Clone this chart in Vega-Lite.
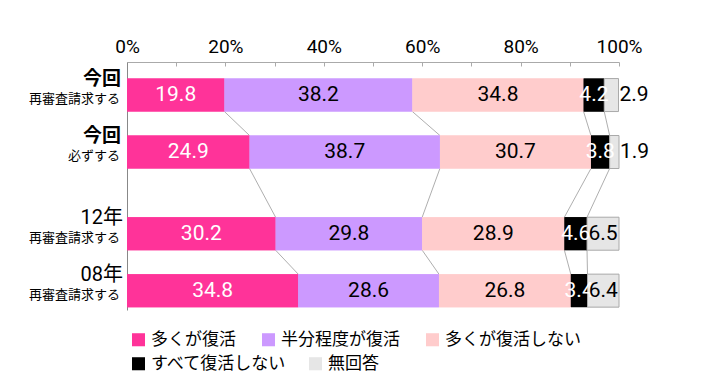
{
  "$schema": "https://vega.github.io/schema/vega-lite/v6.json",
  "width": 492,
  "height": 248,
  "autosize": {"type": "none"},
  "padding": {"left": 127, "top": 62, "right": 87, "bottom": 80},
  "background": "white",
  "config": {"view": {"stroke": null}, "font": "Noto Sans CJK JP"},
  "resolve": {"scale": {"color": "independent"}, "legend": {"color": "independent"}},
  "datasets": {
    "bars": [
      {"row": 1, "cat": "多くが復活", "k": 1, "value": 19.8},
      {"row": 1, "cat": "半分程度が復活", "k": 2, "value": 38.2},
      {"row": 1, "cat": "多くが復活しない", "k": 3, "value": 34.8},
      {"row": 1, "cat": "すべて復活しない", "k": 4, "value": 4.2},
      {"row": 1, "cat": "無回答", "k": 5, "value": 2.9},
      {"row": 2, "cat": "多くが復活", "k": 1, "value": 24.9},
      {"row": 2, "cat": "半分程度が復活", "k": 2, "value": 38.7},
      {"row": 2, "cat": "多くが復活しない", "k": 3, "value": 30.7},
      {"row": 2, "cat": "すべて復活しない", "k": 4, "value": 3.8},
      {"row": 2, "cat": "無回答", "k": 5, "value": 1.9},
      {"row": 3, "cat": "多くが復活", "k": 1, "value": 30.2},
      {"row": 3, "cat": "半分程度が復活", "k": 2, "value": 29.8},
      {"row": 3, "cat": "多くが復活しない", "k": 3, "value": 28.9},
      {"row": 3, "cat": "すべて復活しない", "k": 4, "value": 4.6},
      {"row": 3, "cat": "無回答", "k": 5, "value": 6.5},
      {"row": 4, "cat": "多くが復活", "k": 1, "value": 34.8},
      {"row": 4, "cat": "半分程度が復活", "k": 2, "value": 28.6},
      {"row": 4, "cat": "多くが復活しない", "k": 3, "value": 26.8},
      {"row": 4, "cat": "すべて復活しない", "k": 4, "value": 3.4},
      {"row": 4, "cat": "無回答", "k": 5, "value": 6.4}
    ],
    "rows": [
      {"row": 1, "head": "今回", "sub": "再審査請求する", "bold": true},
      {"row": 2, "head": "今回", "sub": "必ずする", "bold": true},
      {"row": 3, "head": "12年", "sub": "再審査請求する", "bold": false},
      {"row": 4, "head": "08年", "sub": "再審査請求する", "bold": false}
    ]
  },
  "layer": [
    {
      "data": {"name": "bars"},
      "transform": [
        {"stack": "value", "groupby": ["row"], "sort": [{"field": "k", "order": "ascending"}], "as": ["x0", "x1"]},
        {"window": [{"op": "lead", "field": "x1", "as": "nx1"}, {"op": "lead", "field": "row", "as": "nrow"}], "groupby": ["cat"], "sort": [{"field": "row", "order": "ascending"}]},
        {"filter": "datum.nrow != null && datum.k < 5"}
      ],
      "mark": {"type": "rule", "color": "#999999", "strokeWidth": 0.8, "yOffset": 16.5, "y2Offset": -16.5},
      "encoding": {
        "x": {"field": "x1", "type": "quantitative"},
        "x2": {"field": "nx1"},
        "y": {"field": "row", "type": "quantitative"},
        "y2": {"field": "nrow"}
      }
    },
    {
      "data": {"name": "bars"},
      "transform": [
        {"stack": "value", "groupby": ["row"], "sort": [{"field": "k", "order": "ascending"}], "as": ["x0", "x1"]}
      ],
      "mark": {"type": "rect", "yOffset": -16.5, "y2Offset": 16.5},
      "encoding": {
        "x": {"field": "x0", "type": "quantitative"},
        "x2": {"field": "x1"},
        "y": {"field": "row", "type": "quantitative"},
        "y2": {"field": "row"},
        "color": {
          "field": "cat", "type": "nominal",
          "scale": {
            "domain": ["多くが復活", "半分程度が復活", "多くが復活しない", "すべて復活しない", "無回答"],
            "range": ["#FF3399", "#CC99FF", "#FFCCCC", "#000000", "#E6E6E6"]
          },
          "legend": {
            "orient": "none", "legendX": 3, "legendY": 293,
            "direction": "horizontal",
            "values": ["すべて復活しない", "無回答"],
            "title": null, "symbolType": "square", "symbolSize": 170, "symbolStrokeWidth": 0,
            "labelFont": "Noto Sans CJK JP", "labelFontSize": 17, "labelColor": "black",
            "columnPadding": 20, "labelOffset": 4, "labelLimit": 300
          }
        }
      }
    },
    {
      "data": {"name": "bars"},
      "transform": [
        {"stack": "value", "groupby": ["row"], "sort": [{"field": "k", "order": "ascending"}], "as": ["x0", "x1"]}
      ],
      "mark": {"type": "rect", "yOffset": -16.5, "y2Offset": 16.5},
      "encoding": {
        "x": {
          "field": "x0", "type": "quantitative",
          "scale": {"domain": [0, 100], "nice": false},
          "axis": {
            "orient": "top", "title": null, "grid": false,
            "values": [0, 10, 20, 30, 40, 50, 60, 70, 80, 90, 100],
            "labelExpr": "datum.value % 20 === 0 ? datum.value + '%' : ''",
            "labelOverlap": false, "labelFlush": false,
            "labelFont": "Roboto", "labelFontSize": 19, "labelColor": "black",
            "tickSize": -4, "tickColor": "#aaaaaa", "domainColor": "#aaaaaa",
            "labelPadding": 10
          }
        },
        "x2": {"field": "x1"},
        "y": {
          "field": "row", "type": "quantitative",
          "scale": {"domain": [0.42, 2, 3, 4.34], "range": [0, 90, 171.7, 248], "nice": false, "zero": false},
          "axis": {"labels": false, "ticks": false, "grid": false, "domain": true, "domainColor": "#888888", "title": null}
        },
        "y2": {"field": "row"},
        "color": {
          "field": "cat", "type": "nominal",
          "scale": {
            "domain": ["多くが復活", "半分程度が復活", "多くが復活しない", "すべて復活しない", "無回答"],
            "range": ["#FF3399", "#CC99FF", "#FFCCCC", "#000000", "#E6E6E6"]
          },
          "legend": {
            "orient": "none", "legendX": 3, "legendY": 269,
            "direction": "horizontal",
            "values": ["多くが復活", "半分程度が復活", "多くが復活しない"],
            "title": null, "symbolType": "square", "symbolSize": 170, "symbolStrokeWidth": 0,
            "labelFont": "Noto Sans CJK JP", "labelFontSize": 17, "labelColor": "black",
            "columnPadding": 24, "labelOffset": 4, "labelLimit": 300
          }
        },
        "stroke": {"condition": {"test": "datum.cat === '無回答'", "value": "#aaaaaa"}, "value": "transparent"}
      }
    },
    {
      "data": {"name": "bars"},
      "transform": [
        {"stack": "value", "groupby": ["row"], "sort": [{"field": "k", "order": "ascending"}], "as": ["x0", "x1"]},
        {"calculate": "(datum.x0 + datum.x1) / 2", "as": "mid"},
        {"filter": "!(datum.cat === '無回答' && datum.value < 5)"}
      ],
      "mark": {"type": "text", "font": "Roboto", "fontSize": 21, "baseline": "middle", "align": "center"},
      "encoding": {
        "x": {"field": "mid", "type": "quantitative"},
        "y": {"field": "row", "type": "quantitative"},
        "text": {"field": "value", "type": "quantitative", "format": ".1f"},
        "color": {"condition": {"test": "datum.cat === '多くが復活' || datum.cat === 'すべて復活しない'", "value": "white"}, "value": "black"}
      }
    },
    {
      "data": {"name": "bars"},
      "transform": [
        {"stack": "value", "groupby": ["row"], "sort": [{"field": "k", "order": "ascending"}], "as": ["x0", "x1"]},
        {"filter": "datum.cat === '無回答' && datum.value < 5"}
      ],
      "mark": {"type": "text", "font": "Roboto", "fontSize": 21, "baseline": "middle", "align": "left", "dx": 1, "color": "black"},
      "encoding": {
        "x": {"field": "x1", "type": "quantitative"},
        "y": {"field": "row", "type": "quantitative"},
        "text": {"field": "value", "type": "quantitative", "format": ".1f"}
      }
    },
    {
      "data": {"name": "rows"},
      "transform": [{"filter": "datum.bold"}],
      "mark": {"type": "text", "font": "Noto Sans CJK JP", "fontSize": 19, "fontWeight": "bold", "baseline": "middle", "align": "right", "dx": -6, "dy": -16, "color": "black"},
      "encoding": {
        "x": {"datum": 0, "type": "quantitative"},
        "y": {"field": "row", "type": "quantitative"},
        "text": {"field": "head"}
      }
    },
    {
      "data": {"name": "rows"},
      "transform": [{"filter": "!datum.bold"}],
      "mark": {"type": "text", "font": "Roboto, Noto Sans CJK JP", "fontSize": 20, "baseline": "middle", "align": "right", "dx": -4, "dy": -16, "color": "black"},
      "encoding": {
        "x": {"datum": 0, "type": "quantitative"},
        "y": {"field": "row", "type": "quantitative"},
        "text": {"field": "head"}
      }
    },
    {
      "data": {"name": "rows"},
      "mark": {"type": "text", "font": "Noto Sans CJK JP", "fontSize": 13, "baseline": "middle", "align": "right", "dx": -7, "dy": 4, "color": "black"},
      "encoding": {
        "x": {"datum": 0, "type": "quantitative"},
        "y": {"field": "row", "type": "quantitative"},
        "text": {"field": "sub"}
      }
    }
  ]
}
